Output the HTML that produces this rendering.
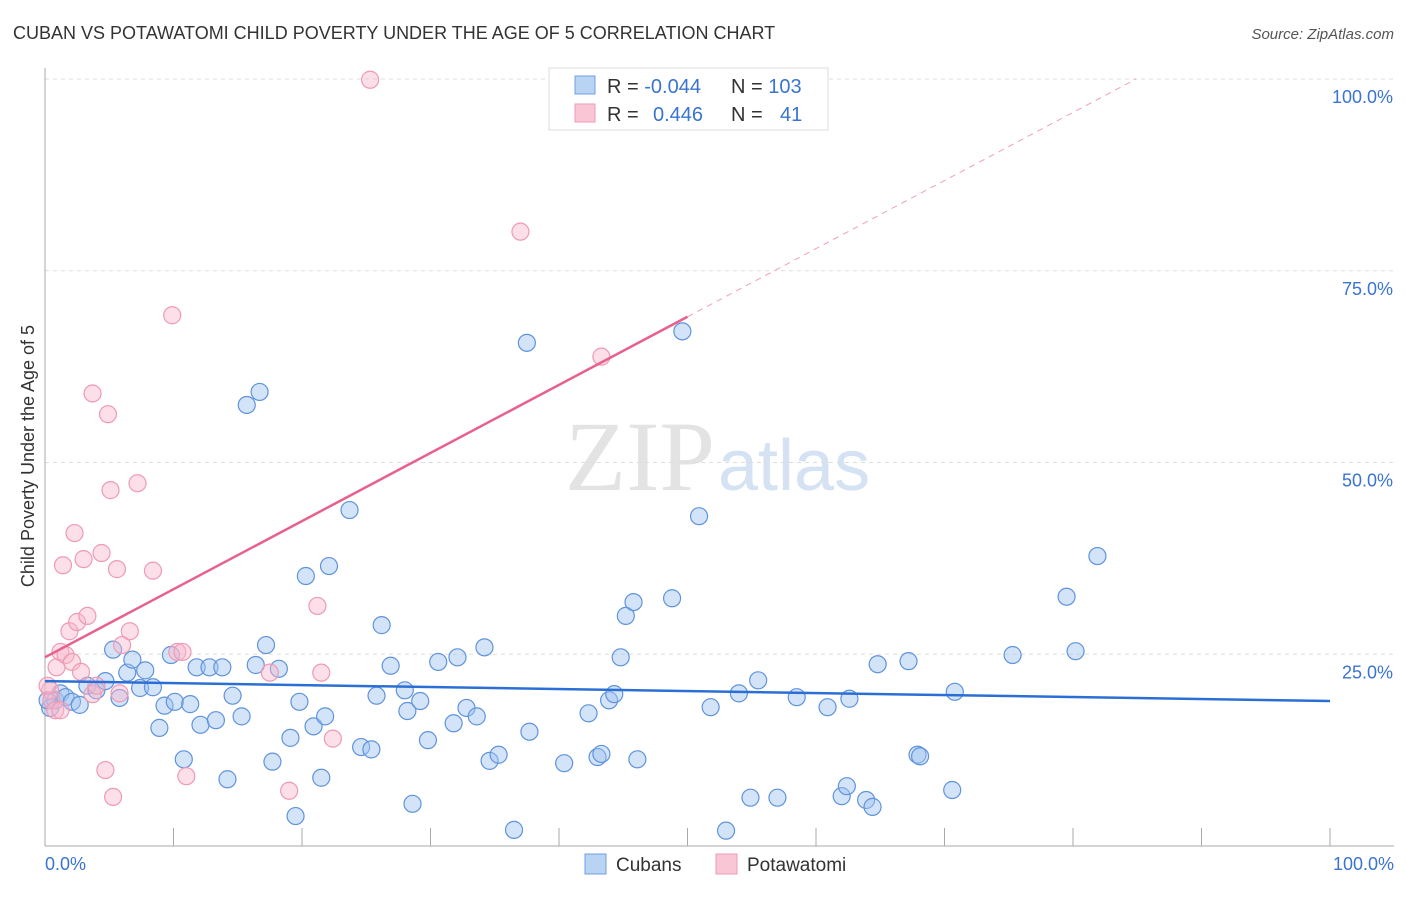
<!DOCTYPE html>
<html><head><meta charset="utf-8"><style>
body{margin:0;background:#fff;font-family:"Liberation Sans",sans-serif;}
</style></head><body>
<svg width="1406" height="892" xmlns="http://www.w3.org/2000/svg" id="chart">
<text x="13" y="39" font-size="18" fill="#333">CUBAN VS POTAWATOMI CHILD POVERTY UNDER THE AGE OF 5 CORRELATION CHART</text>
<text x="1394" y="39" font-size="15" fill="#555" font-style="italic" text-anchor="end">Source: ZipAtlas.com</text>
<text x="715" y="490" font-size="100" fill="#e3e3e3" text-anchor="end" font-family="Liberation Serif">ZIP</text>
<text x="718" y="490" font-size="72" fill="#d4e2f3">atlas</text>
<g id="grid"></g><g id="axes"></g><g id="pts"></g><g id="lines"></g>
<text x="34" y="456" font-size="18" fill="#333" text-anchor="middle" transform="rotate(-90 34 456)">Child Poverty Under the Age of 5</text>
<text x="45" y="870" font-size="18" fill="#3a74d0">0.0%</text>
<text x="1394" y="870" font-size="18" fill="#3a74d0" text-anchor="end">100.0%</text>
<g>
<rect x="549" y="68" width="279" height="62" fill="#fff" stroke="#ddd"/>
<rect x="575" y="76" width="20" height="18" fill="#b9d3f3" stroke="#6f9fe0"/>
<rect x="575" y="104" width="20" height="18" fill="#f9c6d5" stroke="#ee9ab4"/>
<text x="607" y="93" font-size="20" fill="#333">R = <tspan fill="#3a74d0">-0.044</tspan></text>
<text x="731" y="93" font-size="20" fill="#333">N = <tspan fill="#3a74d0">103</tspan></text>
<text x="607" y="121" font-size="20" fill="#333">R = <tspan fill="#3a74d0" x="653">0.446</tspan></text>
<text x="731" y="121" font-size="20" fill="#333">N = <tspan fill="#3a74d0" x="780">41</tspan></text>
</g>
<g>
<rect x="585" y="854" width="21" height="20" fill="#b9d3f3" stroke="#6f9fe0"/>
<text x="616" y="871" font-size="19" fill="#333">Cubans</text>
<rect x="716" y="854" width="21" height="20" fill="#f9c6d5" stroke="#ee9ab4"/>
<text x="747" y="871" font-size="19" fill="#333">Potawatomi</text>
</g>
</svg>
<script>
const yTicks=[25,50,75,100];
const yTickLabels=["25.0%","50.0%","75.0%","100.0%"];
const xTicks=[0,10,20,30,40,50,60,70,80,90,100];
const cubanX=[0.4,0.8,1.2,1.6,2.1,2.7,3.3,4.0,4.7,5.3,5.8,6.4,6.8,7.4,7.8,8.4,8.9,9.3,9.8,10.1,10.8,11.3,11.8,12.1,12.8,13.3,13.8,14.2,14.6,15.3,15.7,16.7,16.4,17.2,17.7,18.2,19.1,19.5,19.8,20.3,20.9,21.5,21.8,22.1,23.7,24.6,25.4,25.8,26.2,26.9,28.0,28.2,28.6,29.2,29.8,30.6,31.8,32.1,32.8,33.6,34.2,34.6,35.3,36.5,37.5,37.7,40.4,42.3,43.0,43.3,43.9,44.3,44.8,45.2,45.8,46.1,48.8,49.6,50.9,51.8,53.0,54.0,54.9,55.5,57.0,58.5,60.9,62.0,62.4,62.6,63.9,64.4,64.8,67.2,67.9,68.1,70.6,70.8,75.3,79.5,80.2,81.9,0.2];
const cubanY=[18.0,19.0,19.9,19.4,18.8,18.4,20.9,20.3,21.5,25.6,19.3,22.6,24.3,20.6,22.9,20.7,15.4,18.3,24.9,18.8,11.3,18.5,23.3,15.8,23.3,16.4,23.3,8.7,19.6,16.9,57.5,59.2,23.6,26.2,11.0,23.1,14.1,3.9,18.8,35.2,15.6,8.9,16.9,36.5,43.8,12.9,12.6,19.6,28.8,23.5,20.3,17.6,5.5,18.9,13.8,24.0,16.0,24.6,18.0,16.9,25.9,11.1,11.9,2.1,65.6,14.9,10.8,17.3,11.6,12.0,19.0,19.8,24.6,30.0,31.8,11.3,32.3,67.1,43.0,18.1,2.0,19.9,6.3,21.6,6.3,19.4,18.1,6.5,7.8,19.2,6.0,5.1,23.7,24.1,11.9,11.7,7.3,20.1,24.9,32.5,25.4,37.8,19.0];
const potX=[0.4,0.5,0.8,0.9,1.2,1.4,1.6,1.9,2.1,2.3,2.5,2.8,3.0,3.3,3.7,4.0,4.4,4.7,4.9,5.1,5.3,5.6,5.8,6.0,6.6,7.2,8.4,9.9,10.3,10.7,11.0,17.5,19.0,21.2,21.5,22.4,25.3,37.0,43.3,1.2,0.2,3.7];
const potY=[20.3,19.0,17.7,23.3,25.3,36.6,24.9,28.0,24.0,40.8,29.2,22.7,37.4,30.0,19.8,20.9,38.2,9.9,56.3,46.4,6.4,36.1,19.9,26.2,28.0,47.3,35.9,69.2,25.3,25.3,9.1,22.6,7.2,31.3,22.6,14.0,99.9,80.1,63.8,17.7,20.9,59.0];
const cubanTrend=[21.5,18.9]; // y at x=0, x=100
const potTrend=[24.6,0.888]; // intercept, slope
const NS="http://www.w3.org/2000/svg";
const X=v=>45+v*12.85, Y=v=>846-v*7.67;
function mk(t,a,p){const e=document.createElementNS(NS,t);for(const k in a)e.setAttribute(k,a[k]);document.getElementById(p).appendChild(e);return e;}
yTicks.forEach((t,i)=>{
 const g=mk('line',{x1:45,x2:1394,y1:Y(t),y2:Y(t),stroke:'#ddd','stroke-dasharray':'4,4'},'grid');
 
 
 const l=mk('text',{x:1393,y:Y(t)+24,'font-size':18,fill:'#3a74d0','text-anchor':'end'},'grid');
 l.textContent=yTickLabels[i];
 
 
});
const ax=mk('line',{x1:45,x2:45,y1:68,y2:846,stroke:'#aaa'},'axes');


const bx=mk('line',{x1:45,x2:1394,y1:846,y2:846,stroke:'#aaa'},'axes');


xTicks.forEach(t=>{const e=mk('line',{x1:X(t),x2:X(t),y1:828,y2:846,stroke:'#aaa'},'axes');
 
 });
cubanX.forEach((v,i)=>{const c=mk('circle',{cx:X(v),cy:Y(cubanY[i]),r:8.5,fill:'rgba(160,196,240,0.45)',stroke:'#5f93dc','stroke-width':1.2},'pts');
 
 });
potX.forEach((v,i)=>{const c=mk('circle',{cx:X(v),cy:Y(potY[i]),r:8.5,fill:'rgba(248,185,205,0.45)',stroke:'#ef9ab5','stroke-width':1.2},'pts');
 
 });
const ct=mk('line',{x1:X(0),y1:Y(cubanTrend[0]),x2:X(100),y2:Y(cubanTrend[1]),stroke:'#2b6fd6','stroke-width':2.5},'lines');


const pt=mk('line',{x1:X(0),y1:Y(potTrend[0]),x2:X(50),y2:Y(potTrend[0]+50*potTrend[1]),stroke:'#e8608e','stroke-width':2.5},'lines');


const xe=(100-potTrend[0])/potTrend[1];
const pd=mk('line',{x1:X(50),y1:Y(potTrend[0]+50*potTrend[1]),x2:X(xe),y2:Y(100),stroke:'#f0a0b8','stroke-width':1,'stroke-dasharray':'6,5'},'lines');


</script>
</body></html>
